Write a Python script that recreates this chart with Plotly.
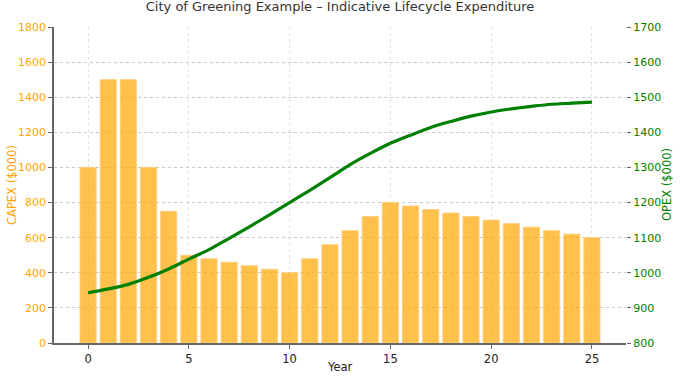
import plotly.graph_objects as go

years = list(range(26))
capex = [1000, 1500, 1500, 1000, 750, 500, 480, 460, 440, 420, 400, 480, 560,
         640, 720, 800, 780, 760, 740, 720, 700, 680, 660, 640, 620, 600]
opex = [943, 954, 967, 987, 1011, 1039, 1066, 1098, 1131, 1165, 1200, 1235, 1271,
        1308, 1340, 1369, 1392, 1414, 1431, 1446, 1458, 1467, 1474, 1480, 1483, 1486]
left_ticks = list(range(0, 1801, 200))
right_ticks = list(range(800, 1701, 100))
x_ticks = [0, 5, 10, 15, 20, 25]

FONT = "DejaVu Sans"
ORANGE = "#FFA500"
GREEN = "#008000"

fig = go.Figure()
fig.add_trace(go.Bar(
    x=years, y=capex, width=0.8, name="CAPEX",
    marker=dict(color="rgba(255,165,0,0.7)",
                line=dict(color="rgba(255,205,120,0.9)", width=1)),
    yaxis="y",
))
fig.add_trace(go.Scatter(
    x=years, y=opex, mode="lines", name="OPEX",
    line=dict(color=GREEN, width=3.2, shape="spline"),
    yaxis="y2",
))

fig.update_layout(
    width=680, height=380,
    margin=dict(l=54, r=54, t=27, b=37),
    paper_bgcolor="white", plot_bgcolor="white",
    showlegend=False,
    font=dict(family=FONT, size=11, color="#222"),
    title=dict(text="City of Greening Example \u2013 Indicative Lifecycle Expenditure",
               x=0.5, xanchor="center", y=1 - 6 / 380, yref="container", yanchor="middle",
               font=dict(family=FONT, size=13, color="#333")),
    xaxis=dict(
        range=[-1.69, 26.69], tickvals=x_ticks, ticktext=[str(v) for v in x_ticks],
        showgrid=True, gridcolor="#e2e2e2", griddash="dot", gridwidth=1,
        showline=True, linecolor="#666", linewidth=1.5,
        ticks="outside", ticklen=4, tickcolor="#666", automargin=False,
        tickfont=dict(size=11.5, color="#222"), zeroline=False,
    ),
    yaxis=dict(
        range=[0, 1800], tickvals=left_ticks,
        showgrid=True, gridcolor="#c8c8c8", griddash="dot", gridwidth=1,
        showline=True, linecolor="#666", linewidth=1.5,
        ticks="outside", ticklen=4, tickcolor="#666", automargin=False,
        tickfont=dict(size=11, color=ORANGE), zeroline=False,
    ),
    yaxis2=dict(
        range=[800, 1700], tickvals=right_ticks, overlaying="y", side="right",
        showgrid=False, showline=False, automargin=False,
        ticks="outside", ticklen=4, tickcolor="#666",
        tickfont=dict(size=11, color=GREEN), zeroline=False,
    ),
    annotations=[
        dict(text="Year", xref="paper", yref="paper", x=0.5, y=0, yshift=-24,
             xanchor="center", yanchor="middle", showarrow=False,
             font=dict(size=11.5, color="#222")),
        dict(text="CAPEX ($000)", xref="paper", yref="paper", x=0, y=0.5, xshift=-42,
             textangle=-90, xanchor="center", yanchor="middle", showarrow=False,
             font=dict(size=11.5, color=ORANGE)),
        dict(text="OPEX ($000)", xref="paper", yref="paper", x=1, y=0.5, xshift=41,
             textangle=-90, xanchor="center", yanchor="middle", showarrow=False,
             font=dict(size=11.5, color=GREEN)),
    ],
)

fig.write_html("out.html")
